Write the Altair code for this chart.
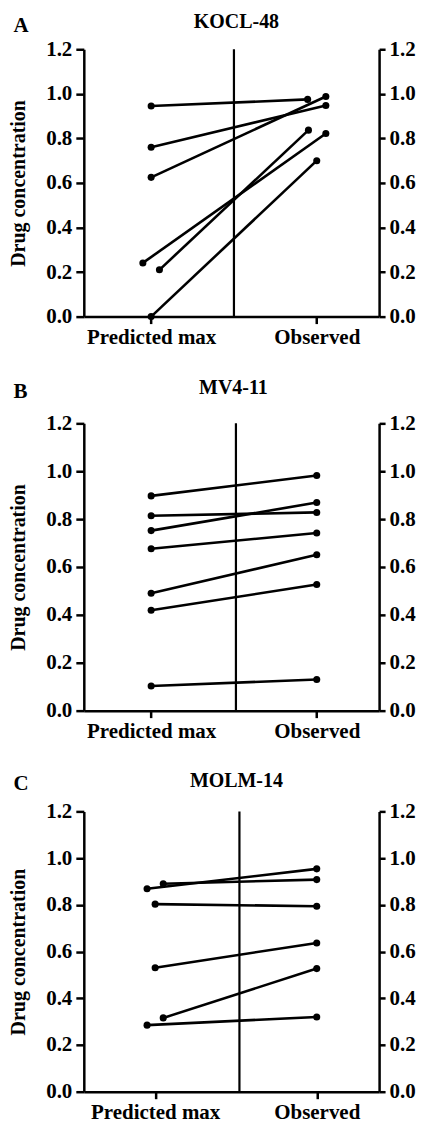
import altair as alt
import pandas as pd

categories = ["Predicted max", "Observed"]
y_ticks = [0.0, 0.2, 0.4, 0.6, 0.8, 1.0, 1.2]

# Panel A: KOCL-48
pred_A = [0.945, 0.760, 0.625, 0.241, 0.210, 0.000]
obs_A = [0.975, 0.948, 0.988, 0.822, 0.837, 0.700]
jit_pred_A = [0.0, 0.0, 0.0, -0.05, 0.05, 0.0]
jit_obs_A = [-0.055, 0.055, 0.055, 0.055, -0.05, 0.0]

# Panel B: MV4-11
pred_B = [0.897, 0.814, 0.752, 0.676, 0.490, 0.419, 0.103]
obs_B = [0.982, 0.828, 0.869, 0.742, 0.651, 0.527, 0.130]
jit_pred_B = [0.0] * 7
jit_obs_B = [0.0] * 7

# Panel C: MOLM-14
pred_C = [0.869, 0.890, 0.803, 0.531, 0.316, 0.285]
obs_C = [0.954, 0.908, 0.794, 0.637, 0.527, 0.320]
jit_pred_C = [-0.05, 0.05, 0.0, 0.0, 0.05, -0.05]
jit_obs_C = [0.0] * 6


def make_df(pred, obs, jp, jo):
    rows = []
    for i, (p, o, a, b) in enumerate(zip(pred, obs, jp, jo)):
        rows.append({"pair": i, "group": categories[0], "x": 1 + a, "value": p})
        rows.append({"pair": i, "group": categories[1], "x": 2 + b, "value": o})
    return pd.DataFrame(rows)


FONT = "Liberation Serif"
W = 296


def panel(letter, name, df, height, xdomain, divider, title_y, letter_y, title_dx):
    xs = alt.Scale(domain=xdomain, nice=False, zero=False)
    ys = alt.Scale(domain=[0, 1.2], nice=False, zero=True)
    xaxis = alt.Axis(
        values=[1, 2],
        labelExpr="datum.value == 1 ? 'Predicted max' : 'Observed'",
        title=None, grid=False, tickSize=7, labelPadding=3, labelFlush=False,
    )
    rule = alt.Chart(pd.DataFrame({"x": [divider], "y0": [0.0], "y1": [1.2]})).mark_rule(
        color="black", strokeWidth=2.2
    ).encode(
        x=alt.X("x:Q", scale=xs, axis=xaxis),
        y=alt.Y("y0:Q", scale=ys, axis=None),
        y2="y1:Q",
    )
    lines = alt.Chart(df).mark_line(color="black", strokeWidth=2.6).encode(
        x=alt.X("x:Q", scale=xs, axis=xaxis),
        y=alt.Y("value:Q", scale=ys, axis=alt.Axis(
            values=y_ticks, format=".1f", title="Drug concentration", grid=False,
            tickSize=8, labelPadding=4, titlePadding=17, titleFontSize=20, orient="left")),
        detail="pair:N",
    )
    points = alt.Chart(df).mark_circle(color="black", opacity=1, size=50).encode(
        x=alt.X("x:Q", scale=xs, axis=xaxis),
        y=alt.Y("value:Q", scale=ys, axis=alt.Axis(
            values=y_ticks, format=".1f", title=None, grid=False,
            tickSize=6, labelPadding=4, orient="right")),
    )
    one = pd.DataFrame({"k": [0]})
    letter_txt = alt.Chart(one).mark_text(
        font=FONT, fontSize=21, fontWeight="bold", align="left", baseline="top", color="black"
    ).encode(x=alt.value(-70.5), y=alt.value(letter_y), text=alt.value(letter))
    title_txt = alt.Chart(one).mark_text(
        font=FONT, fontSize=20, fontWeight="bold", align="center", baseline="top", color="black"
    ).encode(x=alt.value(W / 2 + title_dx), y=alt.value(title_y), text=alt.value(name))
    return alt.layer(rule, lines, points, letter_txt, title_txt).resolve_scale(
        y="independent"
    ).properties(width=W, height=height)


pA = panel("A", "KOCL-48", make_df(pred_A, obs_A, jit_pred_A, jit_obs_A),
           268, [0.5934, 2.3765], 1.5, -37, -34, 5)
pB = panel("B", "MV4-11", make_df(pred_B, obs_B, jit_pred_B, jit_obs_B),
           288, [0.5934, 2.3765], 1.512, -45, -42, 2)
pC = panel("C", "MOLM-14", make_df(pred_C, obs_C, jit_pred_C, jit_obs_C),
           281, [0.5586, 2.3858], 1.5216, -40, -38, 5)

chart = alt.vconcat(pA, alt.vconcat(pB, pC, spacing=30), spacing=31).properties(
    padding={"top": 3, "left": 0, "right": 0, "bottom": 0}
).configure_axis(
    domainColor="black", domainWidth=2.5, tickColor="black", tickWidth=2.5,
    labelFont=FONT, labelFontSize=21, labelFontWeight="bold", labelColor="black",
    titleFont=FONT, titleFontSize=20, titleFontWeight="bold", titleColor="black",
).configure_view(stroke=None)

chart.save("out.html", embed_options={"renderer": "svg", "actions": False})
